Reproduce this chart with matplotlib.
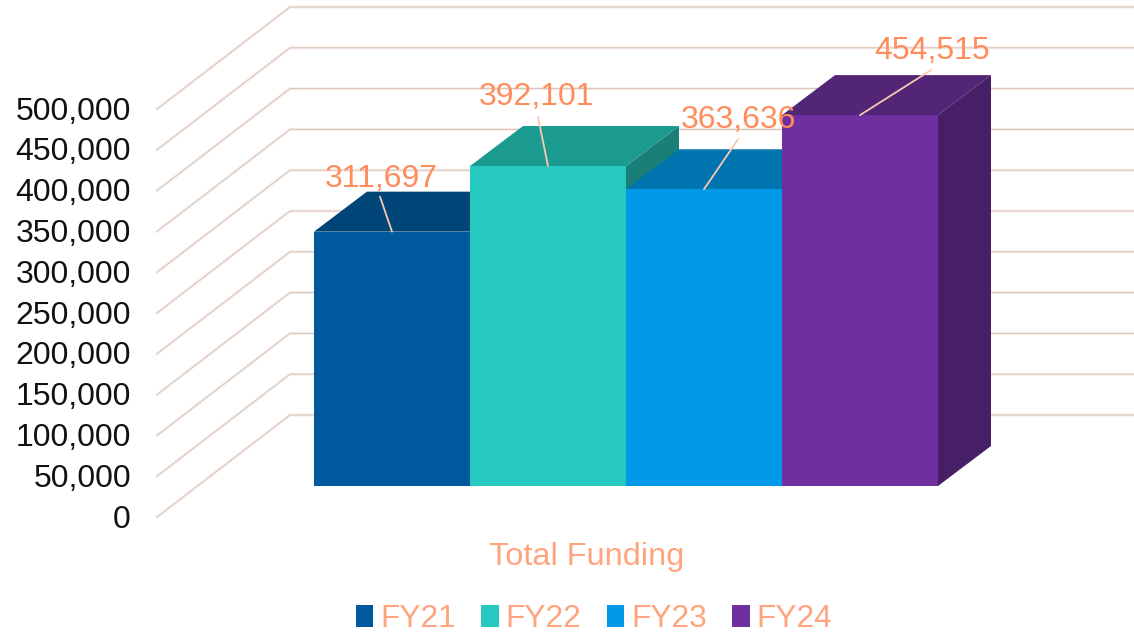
import matplotlib
matplotlib.use("Agg")
import matplotlib.pyplot as plt
from matplotlib.patches import Polygon, Patch

plt.rcParams['font.family'] = ['Liberation Sans', 'DejaVu Sans']

# --- data ---
series = ['FY21', 'FY22', 'FY23', 'FY24']
values = [311697, 392101, 363636, 454515]
value_labels = ['311,697', '392,101', '363,636', '454,515']
y_ticks = [0, 50000, 100000, 150000, 200000, 250000, 300000, 350000, 400000, 450000, 500000]
category = 'Total Funding'

# --- colours ---
front = ['#00599C', '#26C9BF', '#0099E8', '#6F2F9E']
top = ['#004578', '#1B9A90', '#0074AE', '#532577']
side = ['#003B66', '#1A7F76', '#00689C', '#471F66']
grid_c, halo_c = '#D6C4BA', '#F8EEE9'
label_c, title_c, leader_c = '#FF8C5A', '#FFA47E', '#F9C9AE'

# --- layout, in pixels ---
W, H = 1134, 633
slot = 156.0          # px per category slot
x0 = 314.0            # left edge of first bar
base_y = 486.0        # pixel row of value 0 at the bar front
scale = 40.8 / 50000  # px per unit value
bar_dx, bar_dy = 53.0, 40.0
grid_left, grid_back, wall_drop = 157.0, 290.0, 31.0
wall_dy = 102.0

fig = plt.figure(figsize=(W / 100, H / 100), dpi=100, facecolor='white')
ax = fig.add_axes([0, 0, 1, 1])
ax.set_xlim(-0.5 - x0 / slot, -0.5 - x0 / slot + W / slot)
ax.set_ylim(-(H - base_y) / scale, base_y / scale)
ax.axis('off')

dx = bar_dx / slot
dy = bar_dy / scale
g_l = (grid_left - x0) / slot - 0.5
g_b = (grid_back - x0) / slot - 0.5
g_r = (W - x0) / slot - 0.5
drop = wall_drop / scale
wdy = wall_dy / scale

# gridlines on side and back walls
for v in y_ticks:
    xs = [g_l, g_b, g_r]
    ys = [v - drop, v - drop + wdy, v - drop + wdy]
    ax.plot(xs, ys, color=halo_c, lw=2.2, solid_joinstyle='miter', zorder=1)
    ax.plot(xs, ys, color=grid_c, lw=0.7, solid_joinstyle='miter', zorder=1.1)
    ax.annotate(f'{v:,}', xy=(g_l, v - drop), xytext=(-26, -2.5), textcoords='offset pixels',
                ha='right', va='center', fontsize=23, color='#111111', zorder=6)

# bars: back faces first, then front faces
for i, (v, f, t, s) in enumerate(zip(values, front, top, side)):
    l, r = i - 0.5, i + 0.5
    z = 2 + i * 0.1
    ax.add_patch(Polygon([(r, 0), (r + dx, dy), (r + dx, v + dy), (r, v)], closed=True,
                         fc=s, ec='none', zorder=z))
    ax.add_patch(Polygon([(l, v), (l + dx, v + dy), (r + dx, v + dy), (r, v)], closed=True,
                         fc=t, ec='none', zorder=z))
for i, (v, f) in enumerate(zip(values, front)):
    ax.bar(i, v, width=1.0, color=f, ec='none', zorder=3 + i * 0.1 if i else 3)

# leaders and data labels (offsets in pixels)
leader_off = [(-12, 35), (-10, 49), (34, 50), (71, 45)]
label_off = [(-11, 53), (-11, 69), (34, 69), (72, 64)]
for i, (v, txt) in enumerate(zip(values, value_labels)):
    ax.annotate('', xy=(i, v), xytext=leader_off[i], textcoords='offset pixels',
                arrowprops=dict(arrowstyle='-', color=leader_c, lw=1.3,
                                shrinkA=0, shrinkB=0), zorder=5)
    ax.annotate(txt, xy=(i, v), xytext=label_off[i], textcoords='offset pixels',
                ha='center', va='center', fontsize=23, color=label_c, zorder=7)

# category label
ax.text((587 - x0) / slot - 0.5, -(557 - base_y) / scale, category, ha='center', va='center',
        fontsize=23.4, color=title_c)

# legend
handles = [Patch(fc=c, ec='none', label=s) for c, s in zip(front, series)]
ax.legend(handles=handles, loc='center', bbox_to_anchor=(594 / W, 1 - 619 / H),
          ncol=4, frameon=False, fontsize=22.8, labelcolor=title_c,
          handlelength=0.55, handleheight=0.72, handletextpad=0.22,
          columnspacing=0.805, borderpad=0, borderaxespad=0)

fig.savefig('out.png', dpi=100, facecolor='white')
